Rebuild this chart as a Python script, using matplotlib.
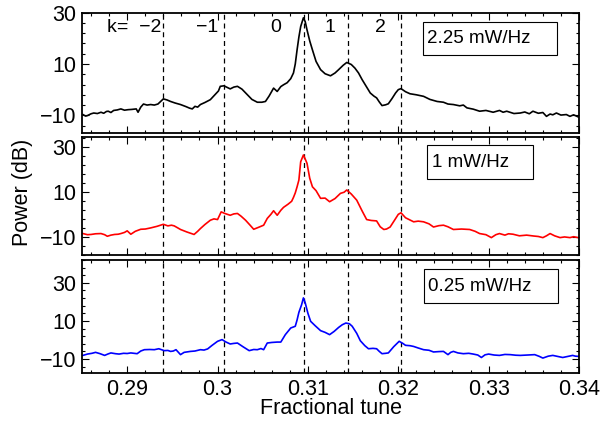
import matplotlib
matplotlib.use("Agg")
import matplotlib.pyplot as plt
from matplotlib.patches import Rectangle
from matplotlib.ticker import AutoMinorLocator

plt.rcParams["font.family"] = ["Liberation Sans", "DejaVu Sans"]

# fractional tune / power (dB)
tune_225 = [0.2851, 0.2854, 0.2856, 0.2860, 0.2863, 0.2867, 0.2871, 0.2874, 0.2877, 0.2879,
            0.2882, 0.2885, 0.2889, 0.2893, 0.2897, 0.2901, 0.2905, 0.2910, 0.2912, 0.2915,
            0.2918, 0.2922, 0.2926, 0.2930, 0.2934, 0.2937, 0.2940, 0.2944, 0.2948, 0.2953,
            0.2959, 0.2965, 0.2969, 0.2972, 0.2975, 0.2978, 0.2981, 0.2986, 0.2992, 0.2997,
            0.3001, 0.3003, 0.3007, 0.3011, 0.3014, 0.3018, 0.3022, 0.3027, 0.3033, 0.3038,
            0.3044, 0.3049, 0.3053, 0.3057, 0.3062, 0.3066, 0.3070, 0.3073, 0.3077, 0.3081,
            0.3084, 0.3086, 0.3088, 0.3090, 0.3092, 0.3095, 0.3097, 0.3099, 0.3102, 0.3105,
            0.3109, 0.3114, 0.3119, 0.3125, 0.3130, 0.3134, 0.3139, 0.3143, 0.3148, 0.3152,
            0.3156, 0.3160, 0.3165, 0.3169, 0.3173, 0.3176, 0.3179, 0.3182, 0.3186, 0.3189,
            0.3193, 0.3197, 0.3200, 0.3203, 0.3208, 0.3213, 0.3220, 0.3228, 0.3235, 0.3243,
            0.3250, 0.3255, 0.3261, 0.3268, 0.3272, 0.3276, 0.3283, 0.3290, 0.3297, 0.3305,
            0.3312, 0.3316, 0.3320, 0.3328, 0.3335, 0.3340, 0.3345, 0.3349, 0.3355, 0.3360,
            0.3364, 0.3368, 0.3371, 0.3375, 0.3380, 0.3386, 0.3390, 0.3394, 0.3399]
power_225 = [-9.7, -10.3, -10.1, -9.4, -9.1, -9.3, -8.8, -9.2, -8.5, -8.4,
             -8.9, -8.1, -7.9, -7.5, -8.0, -7.8, -7.7, -7.5, -8.8, -6.8,
             -5.6, -6.0, -5.8, -6.0, -5.6, -4.6, -3.6, -4.0, -4.6, -5.2,
             -5.8, -6.6, -7.2, -7.5, -6.5, -6.8, -5.8, -5.0, -3.9, -2.0,
             -0.5, 1.3, 1.5, 0.8, 0.3, 1.0, 1.3, 0.2, -2.0, -3.8,
             -4.9, -4.9, -4.6, -2.5, 0.6, -0.7, 1.2, 1.9, 2.7, 4.3,
             6.5, 10.0, 15.5, 20.5, 24.6, 28.0, 26.5, 23.3, 19.0, 15.5,
             11.0, 7.8, 6.2, 5.4, 6.5, 7.8, 9.5, 10.6, 9.8, 8.4,
             6.5, 3.9, 1.0, -1.3, -2.5, -3.2, -4.8, -6.2, -5.9, -5.5,
             -3.5, -1.3, 0.0, 0.4, -0.8, -1.6, -2.0, -2.6, -3.8, -4.6,
             -4.9, -5.6, -5.8, -6.3, -6.0, -7.1, -7.6, -8.4, -8.1, -8.8,
             -8.1, -8.8, -8.4, -9.3, -9.1, -8.7, -9.4, -8.4, -9.2, -8.9,
             -10.4, -9.5, -9.8, -9.1, -9.9, -9.7, -10.4, -9.8, -10.6]

tune_1 = [0.2851, 0.2856, 0.2860, 0.2865, 0.2871, 0.2875, 0.2878, 0.2882, 0.2886, 0.2890,
          0.2893, 0.2897, 0.2900, 0.2904, 0.2909, 0.2915, 0.2920, 0.2926, 0.2933, 0.2940,
          0.2945, 0.2949, 0.2952, 0.2956, 0.2959, 0.2966, 0.2974, 0.2978, 0.2981, 0.2986,
          0.2992, 0.2996, 0.3000, 0.3004, 0.3008, 0.3011, 0.3014, 0.3018, 0.3022, 0.3026,
          0.3031, 0.3036, 0.3040, 0.3045, 0.3051, 0.3055, 0.3059, 0.3062, 0.3066, 0.3070,
          0.3073, 0.3078, 0.3082, 0.3084, 0.3086, 0.3088, 0.3090, 0.3092, 0.3095, 0.3097,
          0.3099, 0.3102, 0.3105, 0.3109, 0.3114, 0.3119, 0.3124, 0.3130, 0.3136, 0.3140,
          0.3143, 0.3148, 0.3154, 0.3160, 0.3165, 0.3170, 0.3176, 0.3180, 0.3184, 0.3187,
          0.3191, 0.3196, 0.3200, 0.3203, 0.3208, 0.3213, 0.3217, 0.3222, 0.3228, 0.3234,
          0.3239, 0.3245, 0.3250, 0.3255, 0.3261, 0.3270, 0.3279, 0.3285, 0.3290, 0.3297,
          0.3303, 0.3308, 0.3312, 0.3318, 0.3322, 0.3327, 0.3334, 0.3342, 0.3350, 0.3355,
          0.3360, 0.3364, 0.3368, 0.3373, 0.3379, 0.3384, 0.3390, 0.3394, 0.3399]
power_1 = [-8.5, -9.0, -8.9, -8.6, -8.5, -9.0, -9.7, -9.2, -8.9, -8.8,
           -8.5, -8.0, -7.3, -8.8, -7.5, -6.6, -6.5, -6.0, -5.3, -4.4,
           -5.1, -4.8, -5.1, -6.0, -6.7, -7.8, -8.9, -7.5, -6.3, -4.5,
           -2.6, -2.0, -2.3, 1.1, 0.4, 0.0, -0.4, 0.2, 0.4, -0.8,
           -2.6, -4.8, -6.6, -5.8, -4.8, -1.8, 0.0, 1.6, -0.4, 1.8,
           3.1, 4.5, 5.8, 7.5, 9.5, 12.2, 15.2, 23.3, 26.3, 24.5,
           22.6, 16.0, 12.2, 10.5, 7.1, 7.2, 5.6, 7.0, 9.3, 9.8,
           10.8, 9.0, 6.3, 1.5, -2.3, -2.7, -2.9, -5.5, -6.7, -6.5,
           -5.6, -2.5, 0.0, 0.7, -1.5, -2.5, -3.3, -3.0, -3.3, -4.2,
           -5.6, -5.0, -4.8, -5.5, -6.7, -6.5, -6.7, -7.5, -8.5, -9.0,
           -10.3, -9.0, -8.5, -9.2, -8.6, -8.8, -9.5, -9.2, -9.6, -9.8,
           -10.3, -9.5, -8.5, -9.5, -10.3, -10.0, -10.3, -9.9, -10.3]

tune_025 = [0.2851, 0.2856, 0.2861, 0.2865, 0.2870, 0.2875, 0.2879, 0.2882, 0.2887, 0.2891,
            0.2896, 0.2900, 0.2904, 0.2911, 0.2915, 0.2919, 0.2925, 0.2930, 0.2935, 0.2941,
            0.2945, 0.2948, 0.2951, 0.2954, 0.2959, 0.2963, 0.2970, 0.2975, 0.2981, 0.2985,
            0.2989, 0.2994, 0.3000, 0.3005, 0.3009, 0.3014, 0.3018, 0.3022, 0.3028, 0.3035,
            0.3040, 0.3044, 0.3048, 0.3051, 0.3055, 0.3060, 0.3066, 0.3070, 0.3075, 0.3081,
            0.3086, 0.3088, 0.3090, 0.3093, 0.3095, 0.3097, 0.3100, 0.3103, 0.3108, 0.3114,
            0.3119, 0.3124, 0.3129, 0.3134, 0.3138, 0.3142, 0.3146, 0.3149, 0.3154, 0.3158,
            0.3163, 0.3167, 0.3172, 0.3176, 0.3179, 0.3182, 0.3186, 0.3189, 0.3195, 0.3201,
            0.3205, 0.3208, 0.3213, 0.3217, 0.3222, 0.3228, 0.3234, 0.3239, 0.3245, 0.3250,
            0.3255, 0.3258, 0.3261, 0.3266, 0.3272, 0.3278, 0.3283, 0.3288, 0.3292, 0.3296,
            0.3300, 0.3306, 0.3312, 0.3318, 0.3324, 0.3330, 0.3335, 0.3343, 0.3351, 0.3356,
            0.3360, 0.3366, 0.3371, 0.3376, 0.3382, 0.3388, 0.3393, 0.3396, 0.3399]
power_025 = [-8.1, -7.4, -7.0, -6.5, -7.2, -8.1, -7.3, -6.8, -7.2, -7.4,
             -7.0, -7.1, -6.8, -7.2, -5.8, -5.1, -5.0, -5.1, -4.6, -5.6,
             -5.5, -6.0, -5.8, -5.1, -7.7, -6.5, -6.0, -5.8, -5.1, -5.3,
             -4.7, -2.8, -0.7, 0.2, -1.0, -2.1, -1.8, -1.6, -3.5, -5.6,
             -5.0, -5.1, -4.5, -5.1, -1.6, -1.3, -1.1, -1.1, 2.8, 6.3,
             7.2, 10.5, 14.5, 18.5, 22.1, 19.5, 14.0, 9.8, 7.5, 4.9,
             4.0, 2.8, 4.5, 6.6, 8.0, 8.9, 8.5, 7.2, 3.5, -0.4,
             -3.0, -4.6, -4.4, -4.6, -6.0, -7.2, -7.0, -6.8, -3.5, -0.7,
             -1.8, -2.8, -3.0, -3.4, -4.2, -5.1, -5.4, -6.3, -6.1, -6.0,
             -7.7, -6.5, -6.0, -6.8, -7.2, -7.0, -7.4, -7.9, -9.2, -7.8,
             -7.4, -7.9, -8.1, -7.6, -7.7, -8.0, -8.1, -7.9, -7.7, -8.6,
             -9.5, -8.5, -8.1, -8.6, -9.2, -8.6, -8.1, -8.5, -8.6]

# sideband positions k = -2 .. 2
sideband_tunes = [0.2940, 0.3007, 0.3096, 0.3144, 0.3203]
sideband_labels = ["k=  \u22122", "\u22121", "0", "1", "2"]
sideband_label_x = [0.29077, 0.29883, 0.30640, 0.31248, 0.31800]

labels = ["2.25 mW/Hz", "1 mW/Hz", "0.25 mW/Hz"]
colors = ["black", "#ff0000", "#0000ff"]
xticks = [0.29, 0.3, 0.31, 0.32, 0.33, 0.34]
xtick_labels = ["0.29", "0.3", "0.31", "0.32", "0.33", "0.34"]
yticks = [-10, 10, 30]

XLIM = (0.285, 0.34)
YLIMS = [(-17, 30), (-18, 34.4), (-17.5, 42)]

# panel rectangles in figure fraction (left, bottom, width, height)
PANELS = [
    (0.1367, 0.6834, 0.8283, 0.2865),
    (0.1367, 0.3943, 0.8283, 0.2810),
    (0.1367, 0.1133, 0.8283, 0.2691),
]
# legend boxes in axes fraction: (x0, y0, w, h, text_x, text_y)
BOXES = [
    (0.6855, 0.6493, 0.2696, 0.2761, 0.6942, 0.7877),
    (0.6934, 0.6399, 0.2145, 0.2899, 0.7034, 0.7861),
    (0.6881, 0.6178, 0.2696, 0.3028, 0.6968, 0.7705),
]

TICK_FS = 15.5
LABEL_FS = 15.5
K_FS = 14
BOX_FS = 13.5


def style_axes(ax, ylim, show_xlabels):
    ax.set_xlim(*XLIM)
    ax.set_ylim(*ylim)
    ax.set_xticks(xticks)
    ax.set_yticks(yticks)
    ax.xaxis.set_minor_locator(AutoMinorLocator(5))
    ax.yaxis.set_minor_locator(AutoMinorLocator(5))
    ax.tick_params(which="both", direction="in", top=True, right=True,
                   labelsize=TICK_FS, width=0.8, pad=4)
    ax.tick_params(which="major", length=5)
    ax.tick_params(which="minor", length=2.5)
    if show_xlabels:
        ax.set_xticklabels(xtick_labels)
    else:
        ax.set_xticklabels([])
    for sp in ax.spines.values():
        sp.set_linewidth(1.3)


def main():
    fig = plt.figure(figsize=(6.0, 4.21), dpi=100)
    series = [(tune_225, power_225), (tune_1, power_1), (tune_025, power_025)]

    axes = []
    for i, (tune, power) in enumerate(series):
        ax = fig.add_axes(PANELS[i])
        for xs in sideband_tunes:
            ax.axvline(xs, color="black", lw=0.9, dashes=(4, 3), zorder=1)
        ax.plot(tune, power, color=colors[i], lw=1.2, zorder=2)
        style_axes(ax, YLIMS[i], show_xlabels=(i == 2))

        x0, y0, w, h, tx, ty = BOXES[i]
        ax.add_patch(Rectangle((x0, y0), w, h, transform=ax.transAxes,
                               facecolor="white", edgecolor="black", lw=0.8, zorder=3))
        ax.text(tx, ty, labels[i], transform=ax.transAxes, ha="left", va="center",
                fontsize=BOX_FS, zorder=4)
        axes.append(ax)

    # k labels along the top panel
    for lx, lab in zip(sideband_label_x, sideband_labels):
        axes[0].text(lx, 24.4, lab, ha="center", va="center", fontsize=K_FS)

    axes[2].set_xlabel("Fractional tune", fontsize=LABEL_FS, labelpad=-1)
    fig.text(0.037, 1 - 192 / 421, "Power (dB)", rotation=90, ha="center",
             va="center", fontsize=LABEL_FS)

    fig.savefig("out.png", dpi=100)


if __name__ == "__main__":
    main()
